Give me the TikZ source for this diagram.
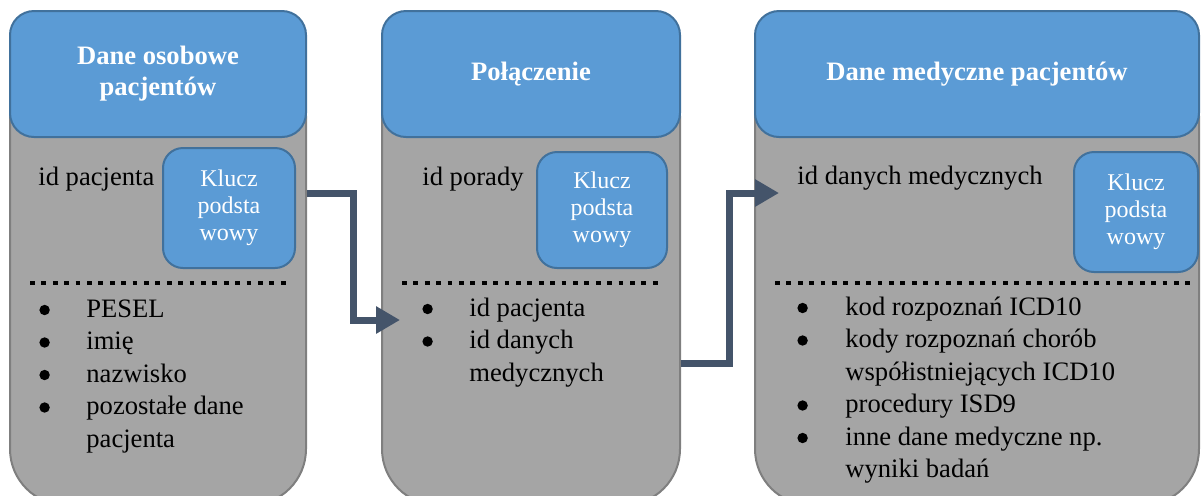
\documentclass[tikz,border=0pt]{standalone}
\usepackage{fontspec}
\setmainfont{Liberation Serif}
\usetikzlibrary{arrows.meta,positioning}

\definecolor{hdrblue}{HTML}{5B9BD5}
\definecolor{hdrline}{HTML}{41719C}
\definecolor{bodygray}{HTML}{A5A5A5}
\definecolor{bodyline}{HTML}{7F7F7F}
\definecolor{linkcol}{HTML}{44546A}

\newcommand{\blt}{\tikz[baseline=0pt]\fill[black] (0,3.5pt) circle (2.6pt);}

\begin{document}
\begin{tikzpicture}[
    x=0.5pt, y=-0.5pt,
    panel/.style={rectangle, draw=bodyline, fill=bodygray, line width=1pt, rounded corners=28pt, minimum height=222.5pt, inner sep=0pt},
    headbox/.style={rectangle, draw=hdrline, fill=hdrblue, line width=1pt, rounded corners=12pt, minimum height=63pt, inner sep=0pt, text=white, align=center, font=\fontsize{13.3}{15.5}\selectfont\bfseries},
    pkbox/.style={rectangle, draw=hdrline, fill=hdrblue, line width=1pt, rounded corners=10pt, inner sep=0pt, text=white, align=center, font=\fontsize{12}{13.6}\selectfont},
    field/.style={anchor=base west, inner sep=0pt, font=\fontsize{13.3}{16.25}\selectfont},
    dotline/.style={line width=2.4pt, dash pattern=on 2.4pt off 3.3pt},
    link/.style={draw=linkcol, line width=3.5pt, -{Triangle[length=12pt, width=13pt]}}
]
\clip (0,0) rectangle (1201,495);

% Panels
\node[panel, minimum width=148pt] (body1) at (158,282.5) {};
\node[panel, minimum width=149pt] (body2) at (531,282.5) {};
\node[panel, minimum width=222pt] (body3) at (977,282.5) {};

% Headers
\node[headbox, minimum width=148pt] (head1) at (158,74) {Dane osobowe\\pacjentów};
\node[headbox, minimum width=149pt] (head2) at (531,74) {Połączenie};
\node[headbox, minimum width=222pt] (head3) at (977,74) {Dane medyczne pacjentów};

% Primary keys
\node[field] (id1) at (38,185) {id pacjenta};
\node[field] (id2) at (422,185) {id porady};
\node[field] (id3) at (797,184) {id danych medycznych};

\node[pkbox, minimum width=66pt, minimum height=60pt] (pk1) at (229,208) {Klucz\\podsta\\wowy};
\node[pkbox, minimum width=65pt, minimum height=58pt] (pk2) at (602,210) {Klucz\\podsta\\wowy};
\node[pkbox, minimum width=62pt, minimum height=60pt] (pk3) at (1136,212) {Klucz\\podsta\\wowy};

% Separators
\draw[dotline] (30,283) -- (292,283);
\draw[dotline] (402,283) -- (663,283);
\draw[dotline] (775,283) -- (1190,283);

% Other fields
\node[field] (list1) at (39,317) {\begin{tabular}[t]{@{}p{23.5pt}@{}l@{}}
\blt & PESEL\\
\blt & imię\\
\blt & nazwisko\\
\blt & pozostałe dane\\
 & pacjenta
\end{tabular}};
\node[field] (list2) at (422,316) {\begin{tabular}[t]{@{}p{23.5pt}@{}l@{}}
\blt & id pacjenta\\
\blt & id danych\\
 & medycznych
\end{tabular}};
\node[field] (list3) at (797,315) {\begin{tabular}[t]{@{}p{24pt}@{}l@{}}
\blt & kod rozpoznań ICD10\\
\blt & kody rozpoznań chorób\\
 & współistniejących ICD10\\
\blt & procedury ISD9\\
\blt & inne dane medyczne np.\\
 & wyniki badań
\end{tabular}};

% Links
\coordinate (out1) at (body1.east |- 0,193);
\coordinate (in1) at (400,320);
\coordinate (out2) at (body2.east |- 0,363);
\coordinate (in2) at (779,193);

\draw[link] (out1) -- ++(46,0) |- (in1);
\draw[link] (out2) -- ++(48,0) |- (in2);

\end{tikzpicture}
\end{document}
